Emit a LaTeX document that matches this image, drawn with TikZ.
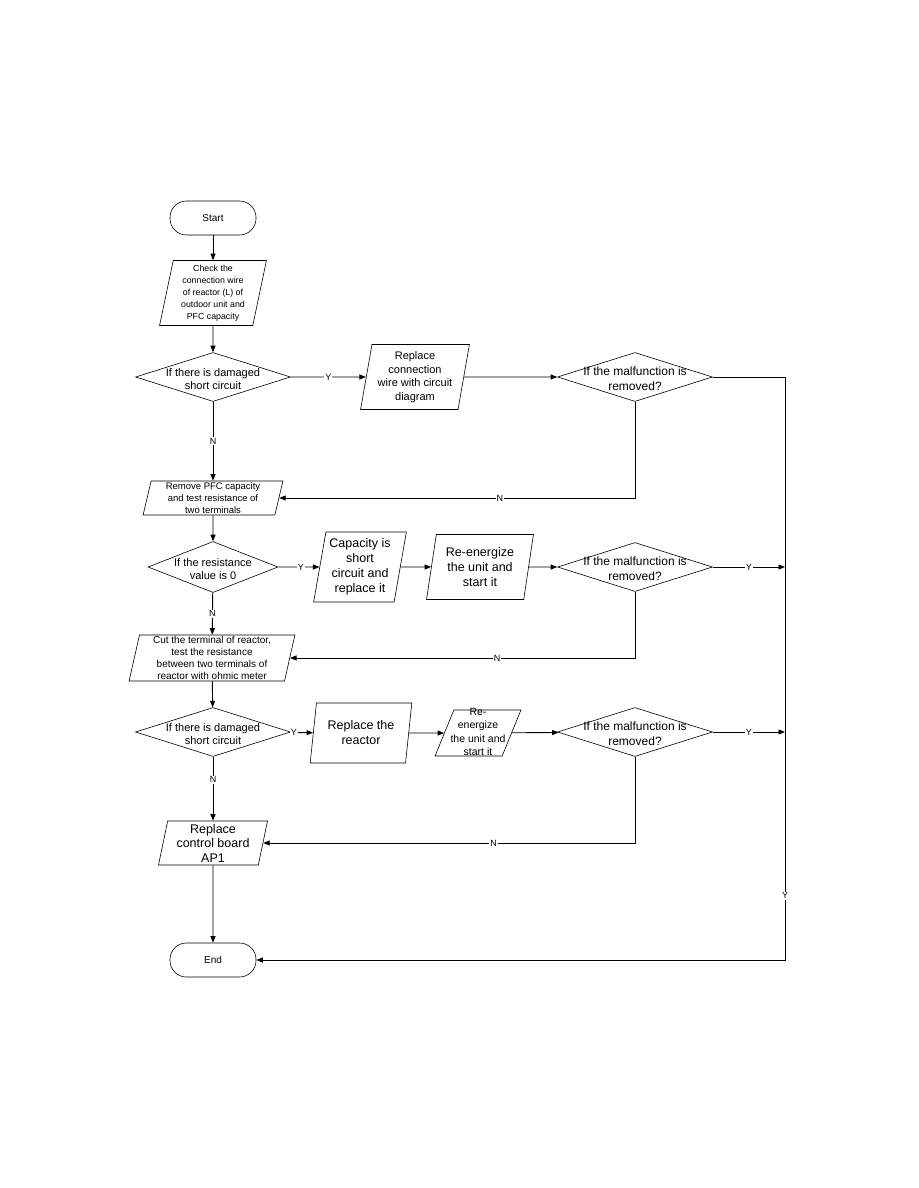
\documentclass[tikz,border=0pt]{standalone}
\usepackage{fontspec}
\setmainfont{Liberation Sans}
\usetikzlibrary{shapes.geometric,arrows.meta}
\begin{document}
\begin{tikzpicture}[x=1pt, y=-1pt, line width=0.9pt, >={Triangle[length=6.5pt,width=5pt]},
  term/.style={draw, line width=0.6pt, rounded corners=16.5pt, minimum width=86, minimum height=34, inner sep=0pt, font=\fontsize{10}{12}\selectfont},
  io/.style={draw, line width=0.6pt, trapezium, trapezium left angle=79, trapezium right angle=101, trapezium stretches=true, align=center, inner sep=0pt},
  dec/.style={draw, line width=0.6pt, diamond, minimum width=155, minimum height=49, inner sep=0pt},
  dtext/.style={align=center, inner sep=0pt, yshift=-2pt},
  lbl/.style={fill=white, inner sep=1pt, font=\fontsize{9}{10}\selectfont}]
\useasboundingbox[fill=white] (0,0) rectangle (918,1188);
\node[term] (start) at (213,218) {Start};
\node[io, minimum width=107, minimum height=65, font=\fontsize{8.8}{12}\selectfont] (chk) at (213,293) {Check the\\connection wire\\of reactor (L) of\\outdoor unit and\\PFC capacity};
\node[dec, label={[dtext, font=\fontsize{11}{13.5}\selectfont]center:{If there is damaged\\short circuit}}] (d1) at (213,377) {};
\node[io, minimum width=109, minimum height=65, font=\fontsize{11}{13.5}\selectfont] (wire) at (415,377) {Replace\\connection\\wire with circuit\\diagram};
\node[dec, label={[dtext, font=\fontsize{12}{15}\selectfont]center:{If the malfunction is\\removed?}}] (d2) at (635,377) {};
\node[io, minimum width=140, minimum height=34, font=\fontsize{9.5}{12.3}\selectfont] (rem) at (213,498) {Remove PFC capacity\\and test resistance of\\two terminals};
\node[dec, minimum width=130, minimum height=51, label={[dtext, font=\fontsize{11}{13.5}\selectfont]center:{If the resistance\\value is 0}}] (d3) at (213,567) {};
\node[io, minimum width=93, minimum height=70, font=\fontsize{12.5}{15}\selectfont] (cap) at (360,567) {Capacity is\\short\\circuit and\\replace it};
\node[io, minimum width=107, minimum height=65, font=\fontsize{12.5}{15}\selectfont] (re1) at (480,567) {Re-energize\\the unit and\\start it};
\node[dec, label={[dtext, font=\fontsize{12}{15}\selectfont]center:{If the malfunction is\\removed?}}] (d4) at (635,567) {};
\node[io, minimum width=166, minimum height=46, font=\fontsize{10}{12}\selectfont] (cut) at (212,658) {Cut the terminal of reactor,\\test the resistance\\between two terminals of\\reactor with ohmic meter};
\node[dec, label={[dtext, font=\fontsize{11}{13.5}\selectfont]center:{If there is damaged\\short circuit}}] (d5) at (213,732) {};
\node[io, minimum width=102, minimum height=60, font=\fontsize{12.5}{15}\selectfont] (rct) at (361,733) {Replace the\\reactor};
\node[io, minimum width=86, minimum height=46, label={[align=center, inner sep=0pt, yshift=1pt, font=\fontsize{10.5}{13.3}\selectfont]center:{Re-\\energize\\the unit and\\start it}}] (re2) at (478,733) {\phantom{\rule{20pt}{40pt}}};
\node[dec, label={[dtext, font=\fontsize{12}{15}\selectfont]center:{If the malfunction is\\removed?}}] (d6) at (635,732) {};
\node[io, minimum width=110, minimum height=44, font=\fontsize{12.5}{14.5}\selectfont] (ctl) at (213,843) {Replace\\control board\\AP1};
\node[term] (endn) at (213,960) {End};
\coordinate (bus1) at (785,377);
\coordinate (bus2) at (785,567);
\coordinate (bus3) at (785,732);
\coordinate (bus4) at (785,960);
\draw[->] (start) -- (chk);
\draw[->] (chk) -- (d1);
\draw[->] (d1) -- node[lbl]{Y} (wire);
\draw[->] (wire) -- (d2);
\draw[->] (d2.east) -- (bus1) -- node[lbl, pos=0.89]{Y} (bus4) -- (endn);
\draw[->] (d1) -- node[lbl]{N} (rem);
\draw[->] (d2.south) |- node[lbl, pos=0.69]{N} (rem.east);
\draw[->] (rem) -- (d3);
\draw[->] (d3) -- node[lbl, pos=0.55]{Y} (cap);
\draw[->] (cap) -- (re1);
\draw[->] (re1) -- (d4);
\draw[->] (d4.east) -- node[lbl]{Y} (bus2);
\draw[->] (d3) -- node[lbl]{N} (cut);
\draw[->] (d4.south) |- node[lbl, pos=0.7]{N} (cut.east);
\draw[->] (cut) -- (d5);
\draw[->] (d5) -- node[lbl, pos=0.2]{Y} (rct);
\draw[->] (rct) -- (re2);
\draw[->] (re2) -- (d6);
\draw[->] (d6.east) -- node[lbl]{Y} (bus3);
\draw[->] (d5) -- node[lbl, pos=0.36]{N} (ctl);
\draw[->] (d6.south) |- node[lbl, pos=0.69]{N} (ctl.east);
\draw[->] (ctl) -- (endn);
\end{tikzpicture}
\end{document}
